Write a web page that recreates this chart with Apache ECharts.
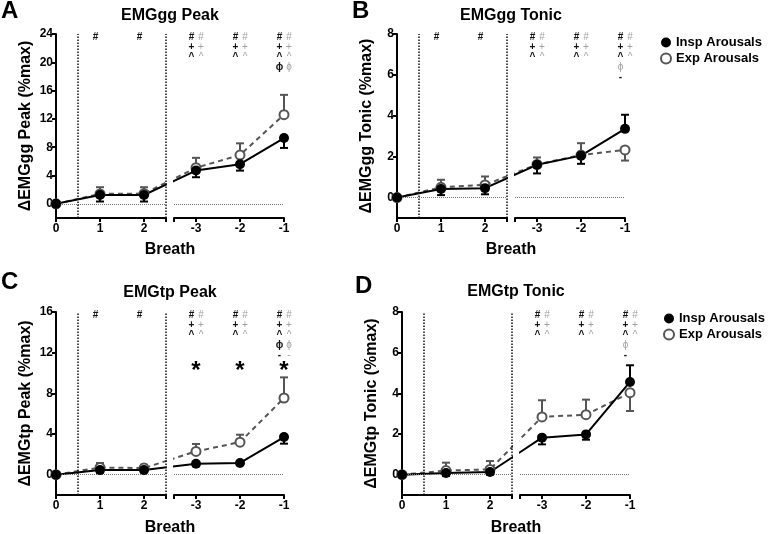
<!DOCTYPE html>
<html><head><meta charset="utf-8">
<script src="https://cdn.jsdelivr.net/npm/echarts@6/dist/echarts.min.js"></script>
<style>html,body{margin:0;padding:0;background:#fff}#c{width:771px;height:534px}</style>
</head><body><div id="c"></div>
<script>
// ---------- DATA ----------
const breathLabels = ['0', '1', '2', '-3', '-2', '-1'];
const leftBreaths = [0, 1, 2];
const rightBreaths = [-3, -2, -1];
const seriesNames = ['Insp Arousals', 'Exp Arousals'];

// A: EMGgg Peak
const inspA = [0, 1.25, 1.25, 4.7, 5.6, 9.3];
const expA = [0, 1.4, 1.45, 5.1, 6.9, 12.6];
const inspSemA = [0, 0.92, 0.92, 0.94, 0.9, 1.4];
const expSemA = [0, 0.95, 0.9, 1.4, 1.65, 2.8];
const yTicksA = [0, 4, 8, 12, 16, 20, 24];

// B: EMGgg Tonic
const inspB = [0, 0.42, 0.46, 1.6, 2.05, 3.36];
const expB = [0, 0.5, 0.62, 1.62, 2.08, 2.33];
const inspSemB = [0, 0.3, 0.3, 0.42, 0.4, 0.69];
const expSemB = [0, 0.37, 0.41, 0.34, 0.58, 0.52];
const yTicksB = [0, 2, 4, 6, 8];

// C: EMGtp Peak
const inspC = [0, 0.45, 0.45, 1.08, 1.15, 3.7];
const expC = [0, 0.7, 0.65, 2.29, 3.2, 7.54];
const inspSemC = [0, 0.25, 0.2, 0.25, 0.2, 0.65];
const expSemC = [0, 0.45, 0.33, 0.73, 0.73, 2.03];
const yTicksC = [0, 4, 8, 12, 16];

// D: EMGtp Tonic
const inspD = [0, 0.08, 0.13, 1.82, 1.98, 4.56];
const expD = [0, 0.2, 0.26, 2.84, 2.95, 4.03];
const inspSemD = [0, 0.15, 0.13, 0.33, 0.26, 0.82];
const expSemD = [0, 0.39, 0.41, 0.82, 0.74, 0.9];
const yTicksD = [0, 2, 4, 6, 8];

// significance symbols per breath (k = black, g = grey), rows top to bottom
const S3 = [['k#', 'g#'], ['k+', 'g+'], ['k^', 'g^']];
const annA = [[], [['k#', '']], [['k#', '']], S3, S3, S3.concat([['kϕ', 'gϕ']])];
const annB = [[], [['k#', '']], [['k#', '']], S3, S3, S3.concat([['gϕ', ''], ['k-', '']])];
const annC = [[], [['k#', '']], [['k#', '']], S3, S3, S3.concat([['kϕ', 'gϕ'], ['k-', 'g-']])];
const annD = [[], [], [], S3, S3, S3.concat([['gϕ', ''], ['k-', '']])];
const starsC = [0, 0, 0, 1, 1, 1];

// ---------- LAYOUT / STYLE ----------
const FONT = '"Liberation Sans", Arial, Helvetica, sans-serif';
const SEG_W = 110, GAP = 8;
const INSP_COLOR = '#000', EXP_COLOR = '#555';
const panels = [
  {letter: 'A', title: 'EMGgg Peak', yName: '\u0394EMGgg Peak (%max)', insp: inspA, exp: expA, inspSem: inspSemA, expSem: expSemA,
   yMin: -2, yMax: 24, yTicks: yTicksA, ann: annA, stars: null, left: 56, top: 34, height: 184, letterPos: [1, 11], titleY: 16, breathY: 250},
  {letter: 'B', title: 'EMGgg Tonic', yName: '\u0394EMGgg Tonic (%max)', insp: inspB, exp: expB, inspSem: inspSemB, expSem: expSemB,
   yMin: -1, yMax: 8, yTicks: yTicksB, ann: annB, stars: null, left: 397, top: 34, height: 184, letterPos: [352, 11], titleY: 16, breathY: 250},
  {letter: 'C', title: 'EMGtp Peak', yName: '\u0394EMGtp Peak (%max)', insp: inspC, exp: expC, inspSem: inspSemC, expSem: expSemC,
   yMin: -2, yMax: 16, yTicks: yTicksC, ann: annC, stars: starsC, left: 56, top: 312, height: 183, letterPos: [1, 282], titleY: 293, breathY: 528},
  {letter: 'D', title: 'EMGtp Tonic', yName: '\u0394EMGtp Tonic (%max)', insp: inspD, exp: expD, inspSem: inspSemD, expSem: expSemD,
   yMin: -1, yMax: 8, yTicks: yTicksD, ann: annD, stars: null, left: 402, top: 312, height: 183, letterPos: [355, 286], titleY: 292, breathY: 528}
];

function errRender(color) {
  return function (params, api) {
    const x = api.value(0), y = api.value(1), e = api.value(2), d = api.value(3);
    if (!e) return;
    const p0 = api.coord([x, y]), p1 = api.coord([x, y + d * e]);
    return {type: 'group', children: [
      {type: 'line', shape: {x1: p0[0], y1: p0[1], x2: p1[0], y2: p1[1]}, style: {stroke: color, lineWidth: 2}},
      {type: 'line', shape: {x1: p1[0] - 4, y1: p1[1], x2: p1[0] + 4, y2: p1[1]}, style: {stroke: color, lineWidth: 2}}
    ]};
  };
}
function annRender(ann, stars) {
  return function (params, api) {
    const idx = api.value(2);
    const top = api.coord([api.value(0), api.value(1)]);
    const children = [];
    (ann[idx] || []).forEach(function (row, r) {
      row.forEach(function (cell, s) {
        if (!cell) return;
        const grey = cell[0] === 'g';
        children.push({type: 'text', style: {
          text: cell.slice(1), x: top[0] + (s ? 5 : -4.5), y: top[1] + 3 + r * 10,
          fill: grey ? '#a0a0a0' : '#111', font: (grey ? '' : 'bold ') + '10px ' + FONT,
          align: 'center', verticalAlign: 'middle', textAlign: 'center', textVerticalAlign: 'middle'}});
      });
    });
    if (stars && stars[idx]) {
      children.push({type: 'text', style: {text: '*', x: top[0], y: top[1] + 59, fill: '#000',
        font: 'bold 24px ' + FONT, align: 'center', verticalAlign: 'middle', textAlign: 'center', textVerticalAlign: 'middle'}});
    }
    return {type: 'group', children: children};
  };
}

const grid = [], xAxis = [], yAxis = [], series = [], graphic = [];
const axisLineStyle = {color: '#000', width: 2};
const labelStyle = {color: '#000', fontSize: 12, fontWeight: 'bold', fontFamily: FONT};

panels.forEach(function (p, pi) {
  const unitPx = SEG_W / 2.5;
  const gapU = GAP / unitPx;
  const segs = [
    {xs: leftBreaths, idx: [0, 1, 2], min: 0, max: 2.5, ticks: [0, 1, 2, 2.5], bridgeIdx: 3, bridgeX: 2.5 + gapU + 0.5, left: p.left},
    {xs: rightBreaths, idx: [3, 4, 5], min: -3.5, max: -1, ticks: [-3.5, -3, -2, -1], bridgeIdx: 2, bridgeX: -3.5 - gapU - 0.5, left: p.left + SEG_W + GAP}
  ];
  segs.forEach(function (sg, si) {
    const gi = grid.length;
    grid.push({left: sg.left, top: p.top, width: SEG_W, height: p.height, containLabel: false});
    xAxis.push({type: 'value', gridIndex: gi, min: sg.min, max: sg.max,
      axisLine: {show: true, onZero: false, lineStyle: axisLineStyle},
      axisTick: {show: true, length: 4, customValues: sg.ticks, lineStyle: {color: '#000', width: 2}},
      axisLabel: Object.assign({customValues: sg.xs, margin: 5}, labelStyle),
      splitLine: {show: false}});
    yAxis.push(si === 0 ? {type: 'value', gridIndex: gi, min: p.yMin, max: p.yMax,
      axisLine: {show: true, onZero: false, lineStyle: axisLineStyle},
      axisTick: {show: true, length: 4, customValues: p.yTicks, lineStyle: {color: '#000', width: 2}},
      axisLabel: Object.assign({customValues: p.yTicks, margin: 3}, labelStyle),
      splitLine: {show: false},
      name: p.yName, nameLocation: 'middle', nameGap: 22,
      nameTextStyle: {fontSize: 16, fontWeight: 'bold', color: '#000', fontFamily: FONT}}
      : {type: 'value', gridIndex: gi, min: p.yMin, max: p.yMax, show: false, splitLine: {show: false}});

    const mk = function (vals) {
      const d = sg.idx.map(function (i, k) { return [sg.xs[k], vals[i]]; });
      const b = {value: [sg.bridgeX, vals[sg.bridgeIdx]], symbol: 'none'};
      if (si === 0) d.push(b); else d.unshift(b);
      return d;
    };
    const markLineData = [{yAxis: 0, lineStyle: {color: '#777', type: 'dotted', width: 1}}];
    if (si === 0) {
      markLineData.push({xAxis: 0.5, lineStyle: {color: '#111', type: 'dotted', width: 1.5}});
      markLineData.push({xAxis: 2.5, lineStyle: {color: '#111', type: 'dotted', width: 1.5}});
    }
    series.push({type: 'line', name: 'exp-line', xAxisIndex: gi, yAxisIndex: gi, data: mk(p.exp), clip: true,
      showSymbol: false, symbol: 'none', z: 2, silent: true, animation: false,
      lineStyle: {color: EXP_COLOR, width: 2, type: [5, 4]},
      markLine: {silent: true, symbol: ['none', 'none'], label: {show: false}, animation: false, data: markLineData}});
    series.push({type: 'line', name: 'insp-line', xAxisIndex: gi, yAxisIndex: gi, data: mk(p.insp), clip: true,
      showSymbol: false, symbol: 'none', z: 3, silent: true, animation: false,
      lineStyle: {color: INSP_COLOR, width: 2}});
    const errData = function (vals, sem, other, isExp) {
      return sg.idx.map(function (i, k) {
        const up = isExp ? vals[i] >= other[i] : vals[i] > other[i];
        return [sg.xs[k], vals[i], sem[i], up ? 1 : -1];
      });
    };
    series.push({type: 'custom', name: 'exp-err', xAxisIndex: gi, yAxisIndex: gi, z: 4, silent: true, animation: false,
      renderItem: errRender(EXP_COLOR), data: errData(p.exp, p.expSem, p.insp, true)});
    series.push({type: 'custom', name: 'insp-err', xAxisIndex: gi, yAxisIndex: gi, z: 4, silent: true, animation: false,
      renderItem: errRender(INSP_COLOR), data: errData(p.insp, p.inspSem, p.exp, false)});
    series.push({type: 'scatter', name: seriesNames[1], xAxisIndex: gi, yAxisIndex: gi, z: 5, animation: false,
      symbol: 'circle', symbolSize: 9, itemStyle: {color: '#fff', borderColor: EXP_COLOR, borderWidth: 2, opacity: 1},
      data: sg.idx.map(function (i, k) { return [sg.xs[k], p.exp[i]]; })});
    series.push({type: 'scatter', name: seriesNames[0], xAxisIndex: gi, yAxisIndex: gi, z: 6, animation: false,
      symbol: 'circle', symbolSize: 10, itemStyle: {color: INSP_COLOR, opacity: 1},
      data: sg.idx.map(function (i, k) { return [sg.xs[k], p.insp[i]]; })});
    series.push({type: 'custom', name: 'sig', xAxisIndex: gi, yAxisIndex: gi, z: 7, silent: true, animation: false, clip: false,
      renderItem: annRender(p.ann, p.stars),
      data: sg.idx.map(function (i, k) { return [sg.xs[k], p.yMax, i]; })});
  });
  const cx = p.left + (SEG_W * 2 + GAP) / 2;
  graphic.push({type: 'text', x: cx, y: p.titleY, style: {text: p.title, fill: '#000', font: 'bold 16px ' + FONT,
    align: 'center', verticalAlign: 'middle', textAlign: 'center', textVerticalAlign: 'middle'}});
  graphic.push({type: 'text', x: cx, y: p.breathY, style: {text: 'Breath', fill: '#000', font: 'bold 16px ' + FONT,
    align: 'center', verticalAlign: 'middle', textAlign: 'center', textVerticalAlign: 'middle'}});
  graphic.push({type: 'text', x: p.letterPos[0], y: p.letterPos[1], style: {text: p.letter, fill: '#000', font: 'bold 24px ' + FONT,
    align: 'left', verticalAlign: 'middle', textAlign: 'left', textVerticalAlign: 'middle'}});
});

const legendBase = {orient: 'vertical', itemWidth: 10, itemHeight: 10, itemGap: 3, selectedMode: false,
  textStyle: {fontSize: 13, fontWeight: 'bold', color: '#000', fontFamily: FONT},
  data: [{name: seriesNames[0], icon: 'circle', itemStyle: {color: INSP_COLOR}},
         {name: seriesNames[1], icon: 'circle', itemStyle: {color: '#fff', borderColor: EXP_COLOR, borderWidth: 2}}]};

const chart = echarts.init(document.getElementById('c'), null, {renderer: 'canvas'});
chart.setOption({
  backgroundColor: '#fff',
  animation: false,
  grid: grid, xAxis: xAxis, yAxis: yAxis, series: series, graphic: graphic,
  legend: [Object.assign({left: 655, top: 31, padding: [5, 5, 5, 5]}, legendBase),
           Object.assign({left: 658, top: 307, padding: [5, 5, 5, 5]}, legendBase)]
});
</script></body></html>
